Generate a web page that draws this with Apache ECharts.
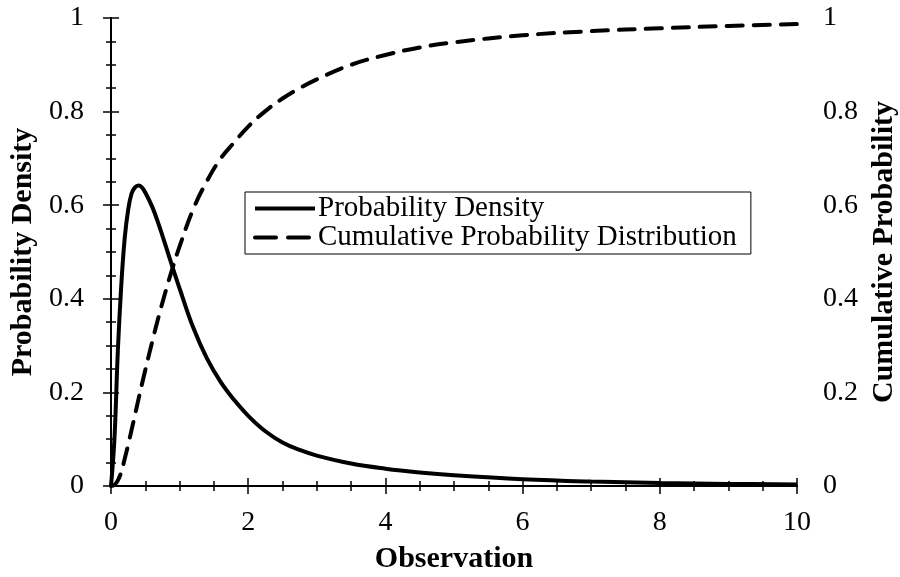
<!DOCTYPE html>
<html><head><meta charset="utf-8">
<script src="https://cdn.jsdelivr.net/npm/echarts@6/dist/echarts.min.js"></script>
<style>html,body{margin:0;padding:0;background:#fff}#c{width:900px;height:577px}</style>
</head><body><div id="c"></div>
<script>
var observation = [0, 0.05, 0.1, 0.15, 0.2, 0.25, 0.3, 0.35, 0.4, 0.45, 0.5, 0.6, 0.7, 0.8, 0.9, 1.0, 1.2, 1.4, 1.6, 1.8, 2.0, 2.25, 2.5, 2.75, 3.0, 3.5, 4.0, 4.5, 5.0, 6.0, 7.0, 8.0, 9.0, 10.0];
var probabilityDensity = [0, 0.10, 0.29, 0.43, 0.53, 0.59, 0.625, 0.638, 0.642, 0.638, 0.627, 0.597, 0.557, 0.512, 0.466, 0.422, 0.338, 0.272, 0.222, 0.183, 0.150, 0.117, 0.093, 0.077, 0.065, 0.048, 0.037, 0.029, 0.023, 0.0145, 0.0095, 0.0065, 0.0045, 0.0032];
var cumulativeProbability = [0, 0.002, 0.012, 0.03, 0.058, 0.088, 0.12, 0.152, 0.185, 0.217, 0.248, 0.308, 0.365, 0.418, 0.467, 0.512, 0.592, 0.652, 0.70, 0.735, 0.768, 0.801, 0.828, 0.850, 0.869, 0.900, 0.921, 0.937, 0.948, 0.963, 0.972, 0.978, 0.983, 0.987];
var seriesNames = ['Probability Density', 'Cumulative Probability Distribution'];
var xTitle = 'Observation', yLeftTitle = 'Probability Density', yRightTitle = 'Cumulative Probability';

var FONT = '"Liberation Serif", "Times New Roman", serif';
function pairs(xs, ys){ return xs.map(function(x,i){ return [x, ys[i]]; }); }
var tickStyle = {show:true, inside:true, length:8, lineStyle:{color:'#000', width:1.5}};
var minorStyle = {show:true, splitNumber:4, length:5, lineStyle:{color:'#000', width:1.5}};
var lineAx = {show:true, lineStyle:{color:'#000', width:2}};
var lbl = {color:'#000', fontFamily:FONT, fontSize:28};
var nameSt = {color:'#000', fontFamily:FONT, fontSize:30, fontWeight:'bold'};

var chart = echarts.init(document.getElementById('c'), null, {renderer:'canvas'});
chart.setOption({
  animation:false,
  backgroundColor:'#fff',
  grid:{left:111, right:103, top:18, bottom:91, outerBoundsMode:'none', containLabel:false},
  legend:{
    orient:'vertical', left:245, top:192, itemWidth:60, itemHeight:14, itemGap:0,
    padding:[2,14,2,8], borderColor:'#000', borderWidth:1, borderRadius:0,
    itemStyle:{opacity:0},
    lineStyle:{width:4, color:'#000'},
    textStyle:{color:'#000', fontFamily:FONT, fontSize:29, padding:[0,0,0,-2]},
    data:[
      {name:seriesNames[0], lineStyle:{width:4, type:'solid', color:'#000'}},
      {name:seriesNames[1], lineStyle:{width:4, type:[21,12], color:'#000', cap:'round'}}
    ]
  },
  xAxis:[
    {type:'value', position:'bottom', min:0, max:10, interval:2,
     axisLine:lineAx, axisTick:tickStyle, minorTick:minorStyle, splitLine:{show:false},
     axisLabel:Object.assign({margin:23}, lbl),
     name:xTitle, nameLocation:'middle', nameGap:58, nameTextStyle:nameSt},
    {type:'value', position:'top', min:0, max:10, interval:2,
     axisLine:lineAx, axisTick:tickStyle, minorTick:minorStyle, splitLine:{show:false},
     axisLabel:{show:false}}
  ],
  yAxis:[
    {type:'value', position:'left', min:0, max:1, interval:0.2,
     axisLine:lineAx, axisTick:tickStyle, minorTick:minorStyle, splitLine:{show:false},
     axisLabel:Object.assign({margin:27}, lbl),
     name:yLeftTitle, nameLocation:'middle', nameGap:71, nameRotate:90, nameTextStyle:nameSt},
    {type:'value', position:'right', min:0, max:1, interval:0.2,
     axisLine:lineAx, axisTick:tickStyle, minorTick:minorStyle, splitLine:{show:false},
     axisLabel:Object.assign({margin:26}, lbl),
     name:yRightTitle, nameLocation:'middle', nameGap:65, nameRotate:90, nameTextStyle:nameSt}
  ],
  series:[
    {name:seriesNames[0], type:'line', xAxisIndex:0, yAxisIndex:0, data:pairs(observation, probabilityDensity),
     smooth:0.4, symbol:'none', lineStyle:{color:'#000', width:4}, itemStyle:{color:'#000'}},
    {name:seriesNames[1], type:'line', xAxisIndex:0, yAxisIndex:1, data:pairs(observation, cumulativeProbability),
     smooth:0.4, symbol:'none', lineStyle:{color:'#000', width:4, type:[16,11], cap:'round'}, itemStyle:{color:'#000'}}
  ]
});
</script></body></html>
